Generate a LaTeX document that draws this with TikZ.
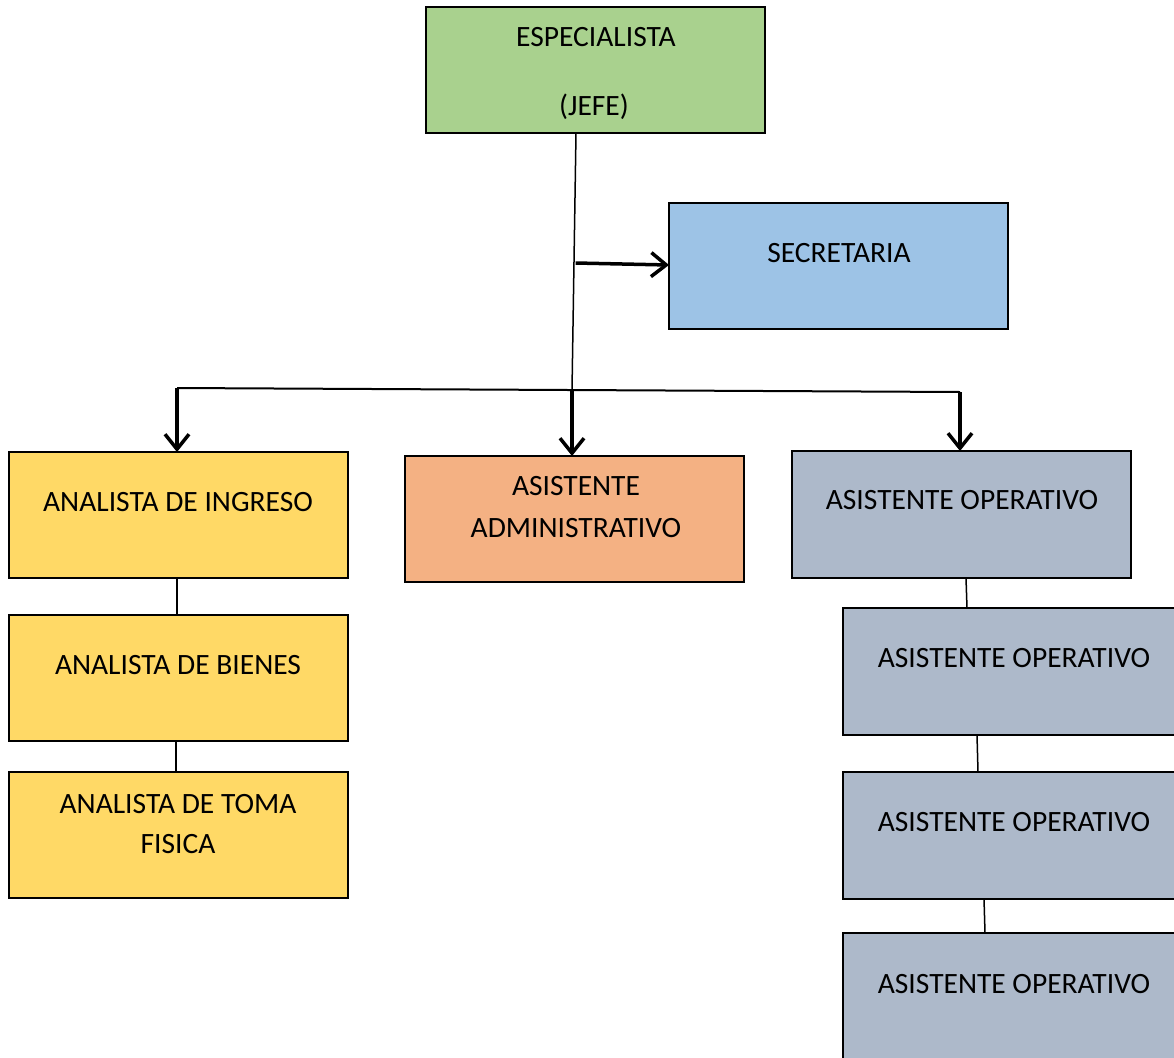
\documentclass[tikz,border=0pt]{standalone}
\usepackage{fontspec}
\setmainfont{Carlito}
\usetikzlibrary{arrows.meta,calc}
\definecolor{cgreen}{HTML}{A9D18E}
\definecolor{cblue}{HTML}{9DC3E6}
\definecolor{cyellow}{HTML}{FFD966}
\definecolor{corange}{HTML}{F4B183}
\definecolor{cgrey}{HTML}{ADB9CA}
\begin{document}
\begin{tikzpicture}[x=1pt,y=-1pt,
  box/.style={draw=black,line width=2.6pt,minimum width=339pt,minimum height=126pt,anchor=north west,inner sep=0pt,outer sep=0pt},
  lbl/.style={anchor=base,inner sep=0pt,font=\fontsize{29.5}{36}\selectfont},
  thinline/.style={line width=1.5pt},
  busline/.style={line width=2pt},
  arr/.style={line width=3.5pt,-{Straight Barb[length=15pt,width=24pt]}}]
\useasboundingbox (0,0) rectangle (1174,1057);
\clip (0,0) rectangle (1174,1057);
\fill[white] (0,0) rectangle (1174,1057);

% boxes
\node[box,fill=cgreen] (jefe) at (426,7) {};
\node[box,fill=cblue] (sec) at (669,203) {};
\node[box,fill=cyellow] (ing) at (9,452) {};
\node[box,fill=corange] (adm) at (405,456) {};
\node[box,fill=cgrey,minimum height=127pt] (ao1) at (792,451) {};
\node[box,fill=cyellow] (bie) at (9,615) {};
\node[box,fill=cyellow] (tom) at (9,772) {};
\node[box,fill=cgrey,minimum height=127pt] (ao2) at (843,608) {};
\node[box,fill=cgrey,minimum height=127pt] (ao3) at (843,772) {};
\node[box,fill=cgrey,minimum height=127pt] (ao4) at (843,933) {};

% texts
\node[lbl] (jefeA) at (596,47) {ESPECIALISTA};
\node[lbl] (jefeB) at (594,115) {(JEFE)};
\node[lbl] (secT) at (839,262) {SECRETARIA};
\node[lbl] (ingT) at (178,511) {ANALISTA DE INGRESO};
\node[lbl] (admA) at (576,495) {ASISTENTE};
\node[lbl] (admB) at (576,537) {ADMINISTRATIVO};
\node[lbl] (ao1T) at (962,509) {ASISTENTE OPERATIVO};
\node[lbl] (bieT) at (178,674) {ANALISTA DE BIENES};
\node[lbl] (tomA) at (178,813) {ANALISTA DE TOMA};
\node[lbl] (tomB) at (178,853) {FISICA};
\node[lbl] (ao2T) at (1014,667) {ASISTENTE OPERATIVO};
\node[lbl] (ao3T) at (1014,831) {ASISTENTE OPERATIVO};
\node[lbl] (ao4T) at (1014,993) {ASISTENTE OPERATIVO};

% connector coordinates
\coordinate (jefeS) at (576,133);
\coordinate (mid) at (572,390);
\coordinate (secTap) at (575.6,263);
\coordinate (busL) at (177,388);
\coordinate (busR) at (960,392);

% jefe trunk
\draw[thinline] (jefeS) -- (mid);
\draw[arr] (secTap) -- (sec.west |- 0,265);
\draw[busline] (busL) -- (busR);
\draw[arr] (busL) -- (ing.north -| busL);
\draw[arr] (mid) -- (adm.north -| mid);
\draw[arr] (busR) -- (ao1.north -| busR);

% stacked connectors
\draw[thinline] ([xshift=-1.5pt]ing.south) -- ([xshift=-1.5pt]bie.north);
\draw[thinline] ([xshift=-2.5pt]bie.south) -- ([xshift=-2.5pt]tom.north);
\draw[thinline] ([xshift=4.5pt]ao1.south) -- ([xshift=-45.5pt]ao2.north);
\draw[thinline] ([xshift=-35.5pt]ao2.south) -- ([xshift=-34.5pt]ao3.north);
\draw[thinline] ([xshift=-28.5pt]ao3.south) -- ([xshift=-27.5pt]ao4.north);
\end{tikzpicture}
\end{document}
